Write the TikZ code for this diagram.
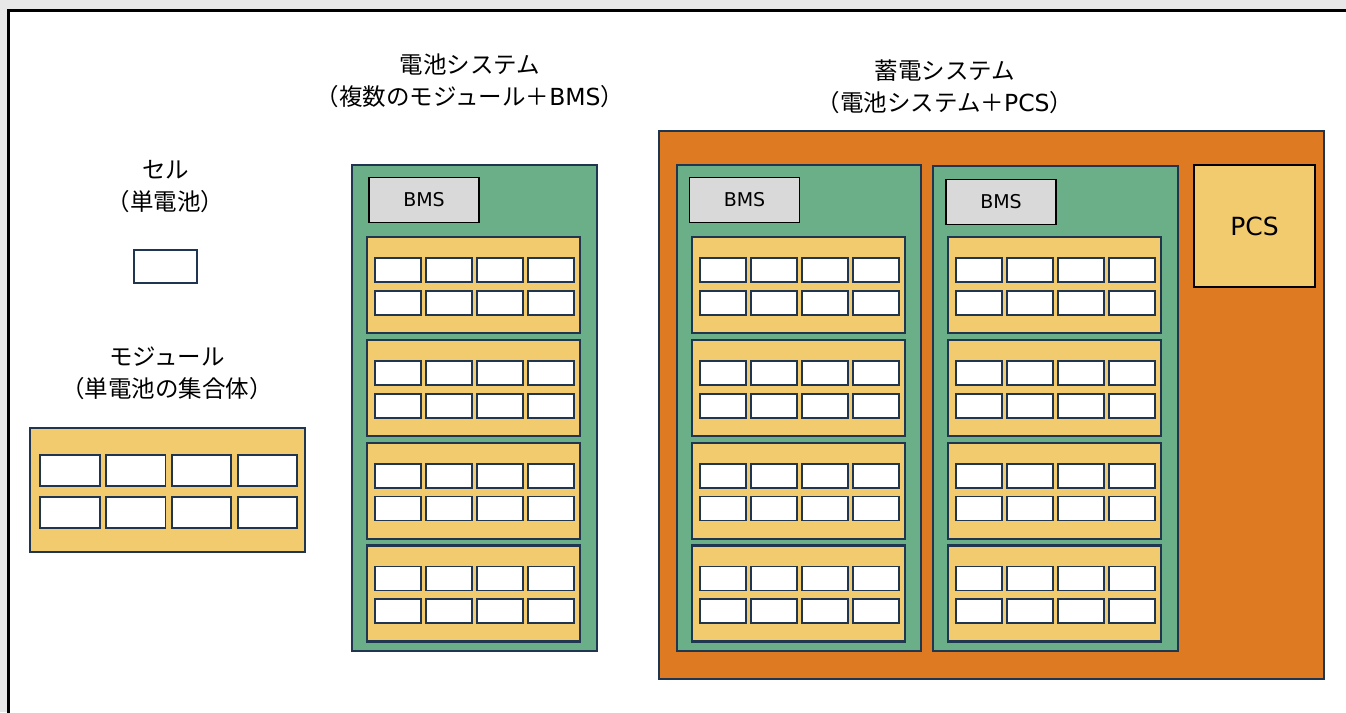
\documentclass[tikz,border=0pt]{standalone}
\usepackage{fontspec}
\setmainfont{Noto Sans CJK JP}
\newfontfamily\latinfont{DejaVu Sans}
\usetikzlibrary{calc}
\definecolor{bggray}{HTML}{E8E8E8}
\definecolor{navy}{HTML}{203650}
\definecolor{modyellow}{HTML}{F2CB6F}
\definecolor{sysgreen}{HTML}{6AAF87}
\definecolor{essorange}{HTML}{DE7B22}
\definecolor{bmsgray}{HTML}{D9D9D9}
\tikzset{
  box/.style={draw, anchor=north west, inner sep=0pt, outer sep=0pt},
  modbox/.style={box, fill=modyellow, draw=navy, line width=2.2pt},
  cellbox/.style={box, fill=white, draw=navy, line width=1.7pt},
  sysbox/.style={box, fill=sysgreen, draw=navy, line width=2.2pt},
  essbox/.style={box, fill=essorange, draw=navy, line width=2.2pt},
  bmsbox/.style={box, fill=bmsgray, draw=black, line width=1.6pt, font=\latinfont\fontsize{19}{22}\selectfont},
  pcsbox/.style={box, fill=modyellow, draw=black, line width=2pt, font=\latinfont\fontsize{25}{28}\selectfont},
  title/.style={align=center, font=\fontsize{23.5}{32}\selectfont, text=black, inner sep=0pt},
}
% style, name, x1, y1, x2, y2, text
\newcommand\boxat[7]{%
  \node[#1, minimum width={(#5-#3)*1pt}, minimum height={(#6-#4)*1pt}] (#2) at (#3,#4) {#7};%
}
% name, x, y, scale
\newcommand\batmod[4]{%
  \node[modbox, minimum width={#4*213pt}, minimum height={#4*96pt}] (#1) at (#2,#3) {};%
  \foreach \r in {0,1}{\foreach \c in {0,...,3}{%
    \node[cellbox, minimum width={#4*46pt}, minimum height={#4*24pt}] (#1-\r\c) at ($(#1.north west)+({#4*(8+51*\c)},{#4*(21+32.7*\r)})$) {};%
  }}%
}
\begin{document}
\begin{tikzpicture}[x=1pt,y=-1pt]
\useasboundingbox (0,0) rectangle (1346,712);
\fill[bggray] (0,0) rectangle (1346,712);
\node[box, fill=white, draw=black, line width=3pt, minimum width=1400pt, minimum height=800pt] (frame) at (8.5,10.5) {};

% cell
\node[title] (celltitle) at (165.5,187) {セル\\（単電池）};
\boxat{cellbox}{cell}{134}{250}{197}{283}{}

% module
\node[title] (modtitle) at (167,373) {モジュール\\（単電池の集合体）};
\batmod{mod}{30}{428}{1.29}

% battery system
\node[title] (systitle) at (470,81) {電池システム\\（複数のモジュール＋{\latinfont BMS}）};
\boxat{sysbox}{sys}{352}{165}{597}{651}{}
\boxat{bmsbox}{sysbms}{369}{177.5}{479}{222.5}{BMS}
\foreach \k in {0,...,3}{\batmod{sysm\k}{367}{237.3+102.7*\k}{1}}

% energy storage system
\node[title] (esstitle) at (945,87) {蓄電システム\\（電池システム＋{\latinfont PCS}）};
\boxat{essbox}{ess}{659}{131}{1324}{679}{}
\boxat{sysbox}{essA}{677}{165}{921}{651}{}
\boxat{bmsbox}{essAbms}{689.5}{177.5}{799.5}{222.5}{BMS}
\foreach \k in {0,...,3}{\batmod{essAm\k}{691.7}{237.3+102.7*\k}{1}}
\boxat{sysbox}{essB}{933}{166}{1178}{651}{}
\boxat{bmsbox}{essBbms}{946}{179.5}{1056}{224.5}{BMS}
\foreach \k in {0,...,3}{\batmod{essBm\k}{948.3}{237.3+102.7*\k}{1}}
\boxat{pcsbox}{pcs}{1194}{165}{1315}{287}{PCS}
\end{tikzpicture}
\end{document}
